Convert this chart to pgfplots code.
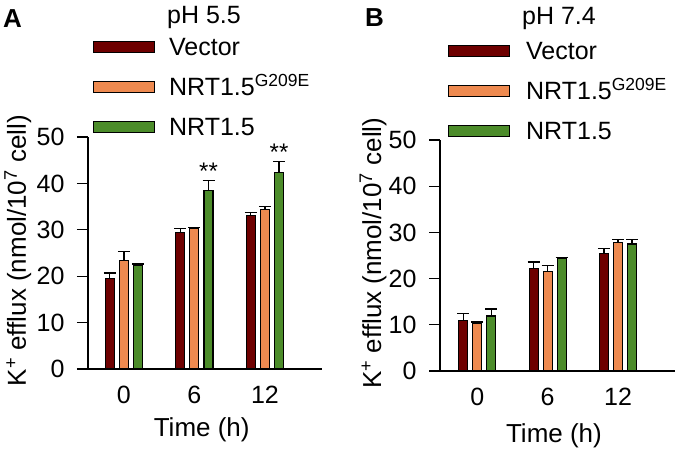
\documentclass[border=0pt]{standalone}
\usepackage{pgfplots}
\pgfplotsset{compat=1.18}
\usepackage{fontspec}
\setmainfont{Liberation Sans}
\definecolor{cvec}{HTML}{6E0000}
\definecolor{cmut}{HTML}{EE8A50}
\definecolor{cwt}{HTML}{4C8C2A}

\pgfplotsset{
  myaxis/.style={
    scale only axis, height=232pt,
    axis lines=left, axis line style={-, line width=1.3pt},
    ymin=0, ymax=50, ytick={0,10,...,50},
    xmin=-0.51, xmax=2.81, xtick={0,1,2}, xticklabels={0,6,12},
    tick align=outside, major tick length=11pt,
    tick style={line width=1.3pt, black},
    xtick style={draw=none},
    tick label style={font=\fontsize{25}{29}\selectfont},
    /pgf/number format/assume math mode=true,
    yticklabel style={xshift=-9pt},
    xticklabel style={yshift=-3pt},
    label style={font=\fontsize{26}{30}\selectfont},
    xlabel={Time (h)},
    ylabel={K\textsuperscript{+} efflux (nmol/10\textsuperscript{7} cell)},
    legend style={draw=none, fill=none, inner sep=0pt, outer sep=0pt,
      font=\fontsize{25}{30}\selectfont, row sep=22pt,
      nodes={text height=18pt, text depth=0pt, inner sep=0pt},
      anchor=north west},
    legend cell align=left,
    clip=false,
  },
  bar/.style={ybar, bar width=9pt, bar shift=0pt, draw=black, line width=1.1pt, fill=#1,
    error bars/y dir=plus, error bars/y explicit,
    error bars/error bar style={line width=1.3pt, black},
    error bars/error mark options={rotate=90, mark size=6pt, line width=1.3pt, black}},
  limg/.style={legend image code/.code={\draw[draw=black, line width=1.2pt, fill=#1] (0pt,-5.5pt) rectangle (61pt,5.5pt);}},
  stars/.style={draw=none, mark=none, point meta=explicit symbolic, nodes near coords,
    every node near coord/.append style={anchor=base, yshift=1pt, inner sep=0pt, text=black, font=\fontsize{24}{28}\selectfont}},
}

\begin{document}
\begin{tikzpicture}
\useasboundingbox (0,0) rectangle (678pt,451pt);
% Panel A
\begin{axis}[myaxis, width=234pt, at={(88pt,82pt)}, anchor=south west,
  ylabel style={at={(axis description cs:-0.30,0.51)}, anchor=center},
  xlabel style={at={(axis description cs:0.486,0)}, anchor=base, yshift=-67pt},
  legend style={at={(axis description cs:0.021,1.427)}, /tikz/every odd column/.append style={column sep=14pt}}]
\addlegendimage{limg=cvec}\addlegendentry{Vector}
\addlegendimage{limg=cmut}\addlegendentry{NRT1.5\textsuperscript{G209E}}
\addlegendimage{limg=cwt}\addlegendentry{NRT1.5}
\addplot[bar=cvec, forget plot] coordinates {(-0.2,19.6) += (0,1.1) (0.8,29.5) += (0,0.8) (1.8,33.0) += (0,0.7)};
\addplot[bar=cmut, forget plot] coordinates {(0,23.3) += (0,2.0) (1,30.2) += (0,0.3) (2,34.3) += (0,0.7)};
\addplot[bar=cwt, forget plot] coordinates {(0.2,22.4) += (0,0.2) (1.2,38.4) += (0,2.3) (2.2,42.4) += (0,2.3)};
\addplot[stars, forget plot] coordinates {(1.2,40.7) [**] (2.2,44.7) [**]};
\end{axis}
% Panel B
\begin{axis}[myaxis, width=235pt, at={(440pt,80pt)}, anchor=south west, height=231pt,
  xmin=-0.53,
  ylabel style={at={(axis description cs:-0.285,0.51)}, anchor=center},
  xlabel style={at={(axis description cs:0.485,0)}, anchor=base, yshift=-71pt},
  legend style={at={(axis description cs:0.034,1.426)}, /tikz/every odd column/.append style={column sep=16pt}}]
\addlegendimage{limg=cvec}\addlegendentry{Vector}
\addlegendimage{limg=cmut}\addlegendentry{NRT1.5\textsuperscript{G209E}}
\addlegendimage{limg=cwt}\addlegendentry{NRT1.5}
\addplot[bar=cvec, forget plot] coordinates {(-0.2,10.9) += (0,1.6) (0.8,22.2) += (0,1.4) (1.8,25.5) += (0,1.0)};
\addplot[bar=cmut, forget plot] coordinates {(0,10.3) += (0,0.3) (1,21.6) += (0,1.3) (2,27.8) += (0,0.6)};
\addplot[bar=cwt, forget plot] coordinates {(0.2,11.9) += (0,1.5) (1.2,24.4) += (0,0.2) (2.2,27.5) += (0,0.9)};
\end{axis}
\node[anchor=base west, inner sep=0pt, font=\bfseries\fontsize{26}{30}\selectfont] at (3pt,423pt) {A};
\node[anchor=base west, inner sep=0pt, font=\fontsize{25}{30}\selectfont] at (167pt,427.7pt) {pH 5.5};
\node[anchor=base west, inner sep=0pt, font=\bfseries\fontsize{26}{30}\selectfont] at (365pt,424pt) {B};
\node[anchor=base west, inner sep=0pt, font=\fontsize{25}{30}\selectfont] at (522pt,426pt) {pH 7.4};
\end{tikzpicture}
\end{document}
